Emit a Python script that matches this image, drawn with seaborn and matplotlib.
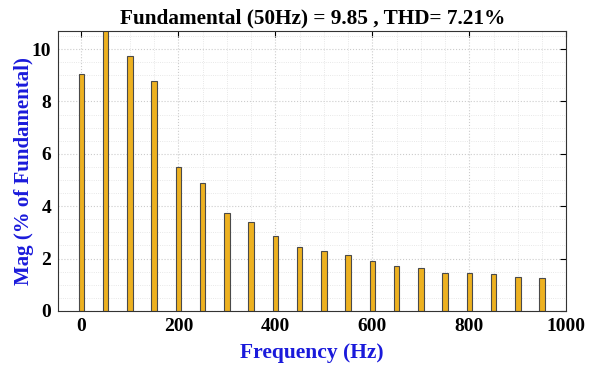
import matplotlib
matplotlib.use("Agg")
import matplotlib.pyplot as plt
import seaborn as sns
import pandas as pd
from matplotlib.ticker import MultipleLocator

# harmonic spectrum (% of fundamental)
freqs = [0, 50, 100, 150, 200, 250, 300, 350, 400, 450,
         500, 550, 600, 650, 700, 750, 800, 850, 900, 950]
mags = [9.05, 100.0, 9.75, 8.8, 5.5, 4.9, 3.75, 3.4, 2.85, 2.45,
        2.3, 2.15, 1.9, 1.7, 1.65, 1.45, 1.45, 1.4, 1.3, 1.25]
title_txt = "Fundamental (50Hz) = 9.85 , THD= 7.21%"

df = pd.DataFrame({"freq": freqs, "mag": mags})

sns.set_style("white")
plt.rcParams["font.family"] = ["Liberation Serif", "DejaVu Serif"]
plt.rcParams["font.weight"] = "bold"
plt.rcParams["text.color"] = "black"
plt.rcParams["xtick.color"] = "black"
plt.rcParams["ytick.color"] = "black"

fig = plt.figure(figsize=(5.93, 3.67), dpi=100)
ax = fig.add_axes([0.098, 0.153, 0.857, 0.763])

sns.barplot(data=df, x="freq", y="mag", native_scale=True, width=0.23,
            color="#EDB120", saturation=1, edgecolor="#4a4a4a", linewidth=0.8, ax=ax)

ax.set_xlim(-48, 1000)
ax.set_ylim(0, 10.7)
ax.xaxis.set_major_locator(MultipleLocator(200))
ax.xaxis.set_minor_locator(MultipleLocator(50))
ax.yaxis.set_major_locator(MultipleLocator(2))
ax.yaxis.set_minor_locator(MultipleLocator(0.5))
ax.grid(True, which="major", color="#cccccc", linestyle=":", linewidth=0.8)
ax.grid(True, which="minor", color="#e0e0e0", linestyle=":", linewidth=0.6)
ax.set_axisbelow(True)
ax.tick_params(which="major", direction="in", top=True, right=True, length=4,
               labelsize=14, width=0.8, pad=5)
ax.tick_params(which="minor", length=0)
for lbl in ax.get_xticklabels() + ax.get_yticklabels():
    lbl.set_fontweight("bold")
for s in ax.spines.values():
    s.set_color("#333333")
    s.set_linewidth(0.8)

ax.set_xlabel("Frequency (Hz)", color="#1a1adb", fontsize=15.5, fontweight="bold", labelpad=6)
ax.set_ylabel("Mag (% of Fundamental)", color="#1a1adb", fontsize=15, fontweight="bold", labelpad=-2)
ax.set_title(title_txt, fontsize=15.3, fontweight="bold", pad=5)

fig.savefig("out.png", dpi=100)
